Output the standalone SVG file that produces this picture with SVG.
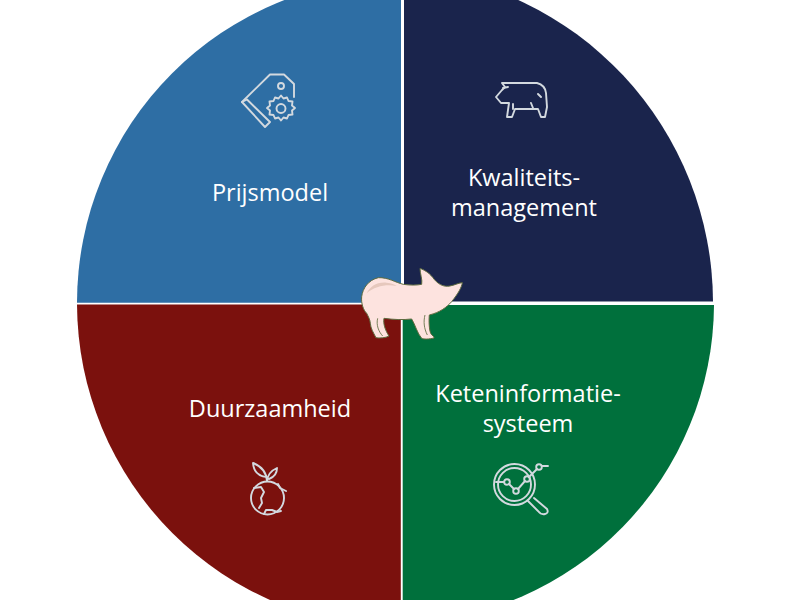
<svg xmlns="http://www.w3.org/2000/svg" width="800" height="600" viewBox="0 0 800 600">
<style>
.label{font-family:"Open Sans","Liberation Sans",sans-serif;font-size:23.500px;fill:#fff;text-anchor:middle}
.icon{fill:none;stroke:#d3d9df;stroke-width:1.900;stroke-linejoin:round;stroke-linecap:round}
</style>
<rect width="800" height="600" fill="#fff"/>
<g id="kwadrant-prijsmodel">
<path d="M401 302.700H77A325 325 0 0 1 401 -22Z" fill="#2e6ea4"/>
<g class="icon">
<path d="M242 102L270 74.500H284L294 84V97"/>
<path d="M242 102L247 99.500L270 122L265 127Z"/>
<circle cx="281" cy="86" r="3"/>
<path d="M281 95.500l2.500 3 3.500-1 1.500 3.500 4 .5-.5 4 3 2.500-3 2.500.5 4-4 .5-1.500 3.500-3.500-1-2.500 3-2.500-3-3.500 1-1.500-3.500-4-.5.500-4-3-2.500 3-2.500-.500-4 4-.5 1.500-3.500 3.500 1z"/>
<circle cx="281" cy="108.500" r="4.500"/>
</g>
<text class="label" x="270" y="200.500">Prijsmodel</text>
</g>
<g id="kwadrant-kwaliteit">
<path d="M404 301.500V-29.200A333 333 0 0 1 713 301.500Z" fill="#1a244c"/>
<path class="icon" d="M502 83H537Q545 85 546 93L547 107L545 117H541L538 109H515L512 117H507L509 103H501L496 97L502 90L505 87Z"/>
<path class="icon" d="M503 88l5-1M538 94l3 3M531 103l2 5M513 104v5"/>
<text class="label"><tspan x="524" y="185.500">Kwaliteits-</tspan><tspan x="524" y="215.500">management</tspan></text>
</g>
<g id="kwadrant-duurzaamheid">
<path d="M400.800 304.600H77A325 325 0 0 0 400.800 628Z" fill="#7b110d"/>
<g class="icon">
<circle cx="267.500" cy="498" r="16.500"/>
<path d="M254 488l7-1 3 5-3 6 1 5-3 5M278 484l2 4 6 3M264 514l2-4 6 0 5 2 4-1"/>
<path d="M267 481Q266 468 253 463Q254 476 267 477M267 481Q268 472 277 468Q277 476 269 479"/>
</g>
<text class="label" x="270" y="416.500">Duurzaamheid</text>
</g>
<g id="kwadrant-keteninformatie">
<path d="M402.700 305H714A320 320 0 0 1 402.700 623Z" fill="#00703c"/>
<g class="icon">
<circle cx="514.500" cy="484.500" r="20.500"/>
<circle cx="514.500" cy="484.500" r="16.500"/>
<path d="M534 498L547 509Q549 513 545 514Q541 515 538 511L528 501"/>
<circle cx="507" cy="482" r="2.800"/><circle cx="516" cy="491" r="2.800"/><circle cx="527" cy="479" r="2.800"/><circle cx="539" cy="467" r="2.800"/>
<path d="M496 482H504M509 484L514 489M518 489L525 481M529 477L537 469M542 466H548"/>
</g>
<text class="label"><tspan x="528" y="401.500">Keteninformatie-</tspan><tspan x="528" y="431.500">systeem</tspan></text>
</g>
<g id="varken" transform="translate(340 250) scale(.3333)">
<path d="M65 140C68 115 85 90 115 83C145 82 165 97 190 103C210 106 230 106 245 103C248 90 240 70 240 55C252 60 265 66 278 82C292 102 310 112 330 108C345 105 358 98 367 98C365 112 355 130 335 155C320 172 300 187 268 195C266 215 268 240 272 250C277 258 284 260 282 264C268 268 250 268 245 265C232 250 226 225 215 207C190 210 160 209 132 205C129 220 135 240 147 258C137 264 118 265 108 263C100 248 92 235 91 220C90 208 85 200 80 190C70 180 63 160 65 140Z" fill="#fde3df" stroke="#5d6b3f" stroke-width="3"/>
<path d="M80 130C90 110 110 95 140 98C155 100 165 103 170 108C140 102 105 108 80 130Z" fill="#e6c8bd"/>
<path d="M113 205C108 225 116 245 128 258M255 195C250 215 252 235 262 255" fill="none" stroke="#5d6b3f" stroke-width="2.500"/>
</g>
</svg>
